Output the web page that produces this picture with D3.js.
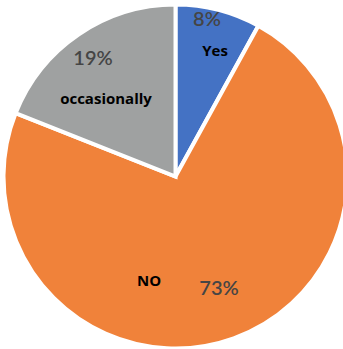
<!DOCTYPE html>
<html>
<head>
<meta charset="utf-8">
<script src="https://cdn.jsdelivr.net/npm/d3@7"></script>
<style>
html, body { margin: 0; padding: 0; background: #fff; }
svg { display: block; }
</style>
</head>
<body>
<svg id="chart" width="343" height="349"></svg>
<script>
// Data
const categories = ["Yes", "NO", "occasionally"];
const values = [8, 73, 19];
const percentLabels = ["8%", "73%", "19%"];
const colors = ["#4472C4", "#F0823A", "#9FA1A1"];

// Layout (label anchor positions relative to pie center)
const cx = 175.5, cy = 176.5, radius = 172;
const pctOffsets = [[31.5, -151], [43.5, 118.5], [-82.5, -111.5]];
const nameOffsets = [[39.5, -120.5], [-26.5, 109.5], [-69.5, -72.5]];

const svg = d3.select("#chart");
const g = svg.append("g").attr("transform", `translate(${cx},${cy})`);

const pie = d3.pie().sort(null).value(d => d)(values);
const arc = d3.arc().innerRadius(0).outerRadius(radius);

g.selectAll("path.slice")
  .data(pie)
  .join("path")
  .attr("class", "slice")
  .attr("d", arc)
  .attr("fill", (d, i) => colors[i])
  .attr("stroke", "#fff")
  .attr("stroke-width", 4)
  .attr("stroke-linejoin", "miter");

g.selectAll("text.pct")
  .data(pie)
  .join("text")
  .attr("class", "pct")
  .attr("x", (d, i) => pctOffsets[i][0])
  .attr("y", (d, i) => pctOffsets[i][1])
  .attr("text-anchor", "middle")
  .attr("font-family", "Lato, 'Open Sans', sans-serif")
  .attr("font-size", 20)
  .attr("font-weight", 600)
  .attr("fill", "#454545")
  .text((d, i) => percentLabels[i]);

g.selectAll("text.name")
  .data(pie)
  .join("text")
  .attr("class", "name")
  .attr("x", (d, i) => nameOffsets[i][0])
  .attr("y", (d, i) => nameOffsets[i][1])
  .attr("text-anchor", "middle")
  .attr("font-family", "'Open Sans', sans-serif")
  .attr("font-size", 15)
  .attr("font-weight", 700)
  .attr("fill", "#000")
  .text((d, i) => categories[i]);
</script>
</body>
</html>
